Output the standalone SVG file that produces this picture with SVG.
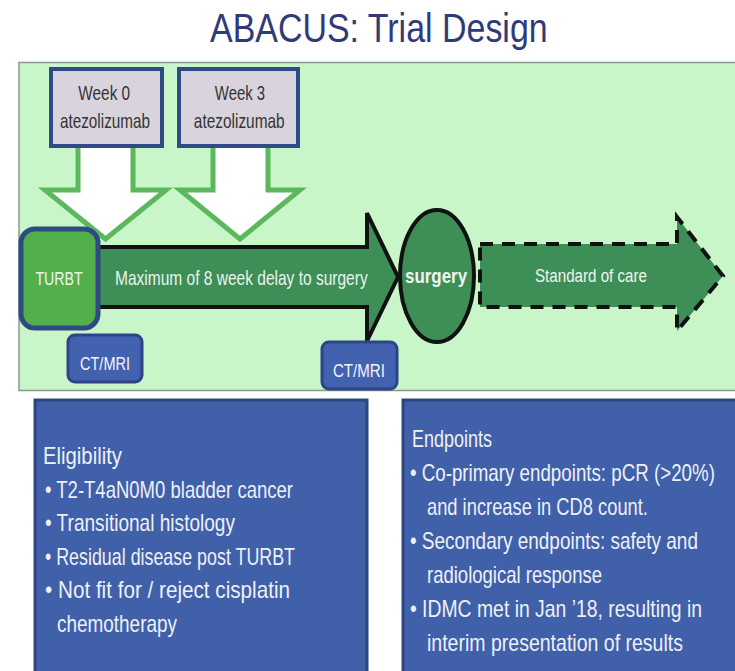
<svg xmlns="http://www.w3.org/2000/svg" width="735" height="671" viewBox="0 0 735 671">
<defs>
<style>
.t{font-family:"Liberation Sans",Arial,sans-serif}
.wk{fill:#d9d3dd;stroke:#2f4a86;stroke-width:4}
.wkt{font-size:21px;fill:#333333;text-anchor:middle}
.hollow{fill:#ffffff;stroke:#5cb85c;stroke-width:5;stroke-linejoin:miter}
.ct{fill:#4262b0;stroke:#2d4488;stroke-width:3}
.ctt{font-size:19px;fill:#f2f4fa;text-anchor:middle}
.gr{fill:#3e8e58;stroke:#111111;stroke-width:4}
.box{fill:#4060aa;stroke:#2e4680;stroke-width:3}
.bt{font-size:23px;fill:#eef0f6}
</style>
</defs>
<rect x="0" y="0" width="735" height="671" fill="#ffffff"/>
<g id="title">
<text class="t" transform="scale(0.84,1)" x="250" y="42" font-size="40" fill="#2f3a78" textLength="402" lengthAdjust="spacingAndGlyphs">ABACUS: Trial Design</text>
</g>
<g id="panel">
<rect x="19" y="62.5" width="720" height="328" fill="#c9f6c9" stroke="#8a9a8a" stroke-width="1.5"/>
</g>
<g id="connectors">
<path class="hollow" d="M78,140 L133,140 L133,190 L166,190 L105.5,239 L45,190 L78,190 Z"/>
<path class="hollow" d="M213,140 L268,140 L268,190 L300,190 L240,239 L180,190 L213,190 Z"/>
</g>
<g id="week0">
<rect class="wk" x="51" y="69" width="111" height="77"/>
<text class="t wkt" transform="scale(0.75,1)" x="139" y="100" textLength="69" lengthAdjust="spacingAndGlyphs">Week 0</text>
<text class="t wkt" transform="scale(0.75,1)" x="140" y="128" textLength="120" lengthAdjust="spacingAndGlyphs">atezolizumab</text>
</g>
<g id="week3">
<rect class="wk" x="179" y="69" width="119" height="77"/>
<text class="t wkt" transform="scale(0.75,1)" x="320" y="100" textLength="67" lengthAdjust="spacingAndGlyphs">Week 3</text>
<text class="t wkt" transform="scale(0.75,1)" x="319" y="128" textLength="121" lengthAdjust="spacingAndGlyphs">atezolizumab</text>
</g>
<g id="delay-arrow">
<path class="gr" d="M90,247 L367,247 L367,213 L398,277 L367,341 L367,307 L90,307 Z"/>
<text class="t" transform="scale(0.78,1)" x="147.4" y="285" font-size="20" fill="#eaf3ea" textLength="324" lengthAdjust="spacingAndGlyphs">Maximum of 8 week delay to surgery</text>
</g>
<g id="turbt">
<rect x="21" y="229" width="77" height="99" rx="14" fill="#52b04c" stroke="#2e4a85" stroke-width="5"/>
<text class="t" transform="scale(0.75,1)" x="78.7" y="285" font-size="19" fill="#eef6ee" text-anchor="middle" textLength="63" lengthAdjust="spacingAndGlyphs">TURBT</text>
</g>
<g id="surgery">
<ellipse class="gr" cx="437" cy="276" rx="37" ry="66" stroke-width="5"/>
<text class="t" transform="scale(0.85,1)" x="513" y="283" font-size="20" font-weight="bold" fill="#eef6ee" text-anchor="middle" textLength="73" lengthAdjust="spacingAndGlyphs">surgery</text>
</g>
<g id="standard-of-care">
<path class="gr" d="M480,244 L677,244 L677,217 L723,276 L677,331 L677,307 L480,307 Z" stroke-dasharray="13,9"/>
<text class="t" transform="scale(0.8,1)" x="668.75" y="282" font-size="19" fill="#eef6ee" textLength="140" lengthAdjust="spacingAndGlyphs">Standard of care</text>
</g>
<g id="ctmri1">
<rect class="ct" x="68" y="335" width="74" height="47" rx="7"/>
<text class="t ctt" transform="scale(0.77,1)" x="136.4" y="370" textLength="65" lengthAdjust="spacingAndGlyphs">CT/MRI</text>
</g>
<g id="ctmri2">
<rect class="ct" x="322" y="342" width="75" height="47" rx="7"/>
<text class="t ctt" transform="scale(0.77,1)" x="466.2" y="377" textLength="67.5" lengthAdjust="spacingAndGlyphs">CT/MRI</text>
</g>
<g id="eligibility">
<rect class="box" x="35" y="400" width="332" height="275"/>
<g transform="scale(0.78,1)">
<text class="t bt" x="55.1" y="464" textLength="101.3" lengthAdjust="spacingAndGlyphs">Eligibility</text>
<text class="t bt" x="57.7" y="498" textLength="317.9" lengthAdjust="spacingAndGlyphs">• T2-T4aN0M0 bladder cancer</text>
<text class="t bt" x="57.7" y="531" textLength="243.6" lengthAdjust="spacingAndGlyphs">• Transitional histology</text>
<text class="t bt" x="57.7" y="565" textLength="320.5" lengthAdjust="spacingAndGlyphs">• Residual disease post TURBT</text>
<text class="t bt" x="57.7" y="598" textLength="314.1" lengthAdjust="spacingAndGlyphs">• Not fit for / reject cisplatin</text>
<text class="t bt" x="73.1" y="632" textLength="153.8" lengthAdjust="spacingAndGlyphs">chemotherapy</text>
</g>
</g>
<g id="endpoints">
<rect class="box" x="403" y="400" width="340" height="275"/>
<g transform="scale(0.78,1)">
<text class="t bt" x="528.2" y="447" textLength="102.6" lengthAdjust="spacingAndGlyphs">Endpoints</text>
<text class="t bt" x="525.6" y="481" textLength="391" lengthAdjust="spacingAndGlyphs">• Co-primary endpoints: pCR (&gt;20%)</text>
<text class="t bt" x="547.4" y="515" textLength="283.3" lengthAdjust="spacingAndGlyphs">and increase in CD8 count.</text>
<text class="t bt" x="525.6" y="549" textLength="369.2" lengthAdjust="spacingAndGlyphs">• Secondary endpoints: safety and</text>
<text class="t bt" x="547.4" y="583" textLength="224.4" lengthAdjust="spacingAndGlyphs">radiological response</text>
<text class="t bt" x="525.6" y="617" textLength="374.4" lengthAdjust="spacingAndGlyphs">• IDMC met in Jan ’18, resulting in</text>
<text class="t bt" x="547.4" y="651" textLength="328.2" lengthAdjust="spacingAndGlyphs">interim presentation of results</text>
</g>
</g>
</svg>
